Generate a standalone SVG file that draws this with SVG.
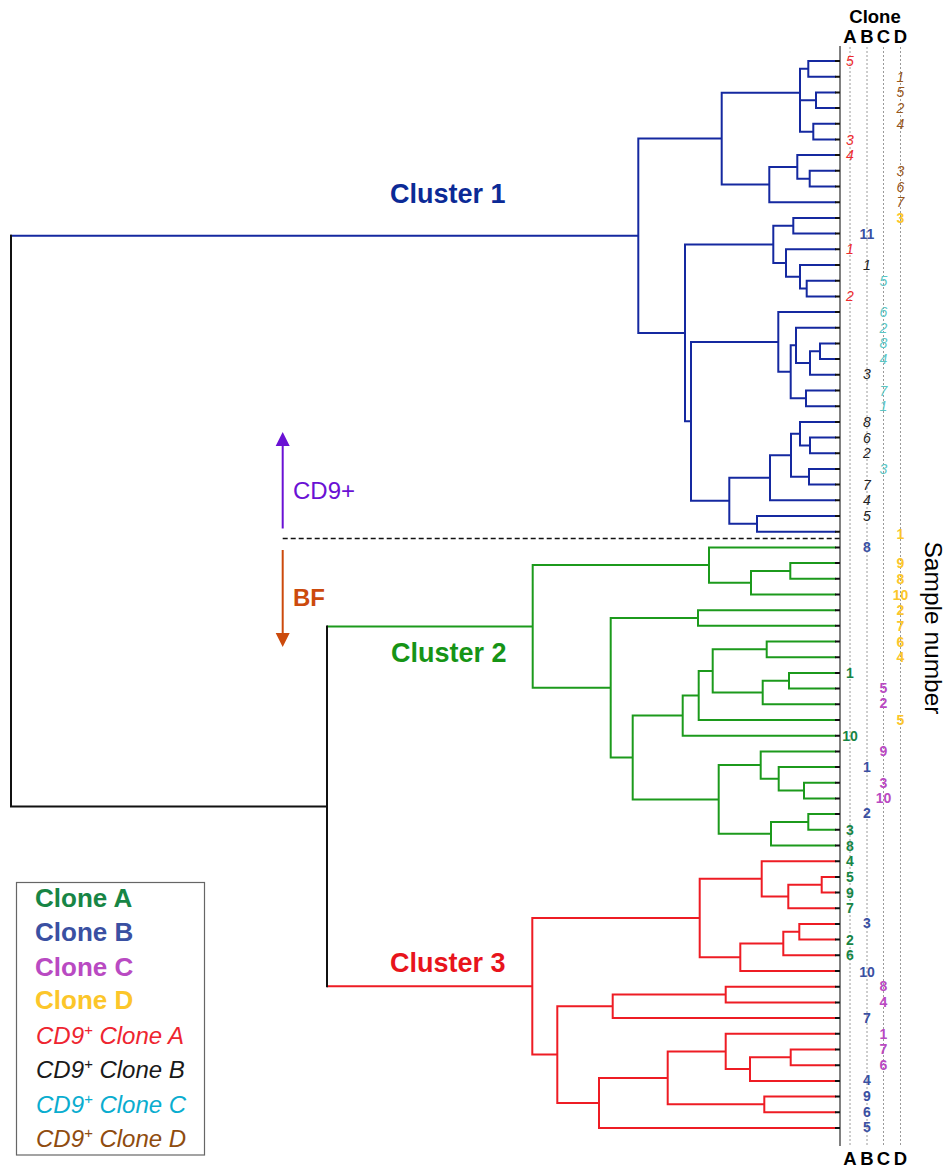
<svg xmlns="http://www.w3.org/2000/svg" width="948" height="1169" viewBox="0 0 948 1169">
<style>
text{font-family:"Liberation Sans",Arial,sans-serif}
.t{fill:none;stroke-width:2;stroke-linecap:square}
.tb{stroke:#1529a0}.tg{stroke:#1c9a1c}.tr{stroke:#ee1c24}.tk{stroke:#111}
.n{font-size:14px;text-anchor:middle}
.i{font-style:italic}
.b{font-weight:bold}
.cA{fill:#ee2a2e}.cB{fill:#222}.cC{fill:#5cc6c4}.cD{fill:#98571b}
.gA{fill:#178545}.gB{fill:#3a50a2}.gC{fill:#b94ac2}.gD{fill:#fcc62a}
.hdr{font-size:18.5px;font-weight:bold;text-anchor:middle;fill:#000}
.cl{font-size:27px;font-weight:bold}
.lg{font-size:26px;font-weight:bold}
.li{font-size:24px;font-style:italic}
.dot{stroke:#9a9a9a;stroke-width:1;stroke-dasharray:2 2}
</style>
<defs>
<marker id="ahP" viewBox="0 0 10 10" refX="0" refY="5" markerUnits="userSpaceOnUse" markerWidth="14" markerHeight="16" orient="auto"><path d="M0,0L10,5L0,10z" fill="#6a11d4"/></marker>
<marker id="ahO" viewBox="0 0 10 10" refX="0" refY="5" markerUnits="userSpaceOnUse" markerWidth="14" markerHeight="16" orient="auto"><path d="M0,0L10,5L0,10z" fill="#cc4a0c"/></marker>
</defs>
<rect width="948" height="1169" fill="#fff"/>

<g id="axis">
<path class="dot" d="M850 47V1145M867 47V1145M883.5 47V1145M900.5 47V1145"/>
<path d="M840 46V1146" stroke="#808080" stroke-width="2"/>
<text class="hdr" x="875" y="23">Clone</text>
<text class="hdr" x="850" y="42.5">A</text><text class="hdr" x="867" y="42.5">B</text><text class="hdr" x="883.5" y="42.5">C</text><text class="hdr" x="900.5" y="42.5">D</text>
<text class="hdr" x="850" y="1165">A</text><text class="hdr" x="867" y="1165">B</text><text class="hdr" x="883.5" y="1165">C</text><text class="hdr" x="900.5" y="1165">D</text>
<text transform="translate(925,628) rotate(90)" text-anchor="middle" font-size="24.5" fill="#000">Sample number</text>
</g>

<g id="connectors">
<path class="t tb" d="M835 61H808.3V76.7H835 M835 92.4H816V108.1H835 M835 123.8H813.3V139.5H835 M808.3 68.85H800V131.65H813.3 M800 100.25H816 M835 170.8H809.7V186.5H835 M835 155.1H797.3V178.65H809.7 M797.3 166.9H769.3V202.2H835 M800 92.7H721.7V184.55H769.3 M835 217.9H793.3V233.6H835 M835 280.7H806.7V296.4H835 M835 265H800V288.55H806.7 M835 249.3H786V276.8H800 M793.3 225.75H773.3V263.05H786 M835 343.4H820V359.1H835 M820 351.25H810V374.8H835 M835 327.7H796V363H810 M835 390.5H806V406.2H835 M796 345.35H790.7V398.35H806 M835 312H778.3V371.85H790.7 M835 437.6H810V453.3H835 M835 421.9H800V445.45H810 M835 468.9H809V484.6H835 M800 433.7H791V476.75H809 M791 455.2H770V500.3H835 M835 516H757V531.7H835 M770 477.75H729.3V523.85H757 M778.3 341.9H691V500.8H729.3 M773.3 244.4H685V421.35H691 M721.7 138.6H638.3V332.9H685 M638.3 235.75H11"/>
<path class="t tg" d="M835 563.1H790.3V578.8H835 M790.3 570.95H751V594.5H835 M835 547.4H709V582.7H751 M835 610.2H698V625.8H835 M835 641.5H766.7V657.2H835 M835 672.9H789V688.6H835 M789 680.75H762.7V704.3H835 M766.7 649.35H712.7V692.5H762.7 M712.7 670.9H698.7V720H835 M698.7 695.45H682.7V735.7H835 M835 782.7H804V798.4H835 M835 767.1H778.7V790.55H804 M835 751.4H760.7V778.8H778.7 M835 814.1H808.3V829.8H835 M808.3 821.95H771V845.5H835 M760.7 765.1H718.7V833.7H771 M682.7 715.6H632.7V799.4H718.7 M698 618H610.7V757.5H632.7 M709 565.05H532.7V687.75H610.7 M532.7 626.4H328"/>
<path class="t tr" d="M835 876.9H821.7V892.6H835 M821.7 884.75H788.3V908.3H835 M835 861.2H761.7V896.5H788.3 M835 924H799.3V939.6H835 M799.3 931.8H783.3V955.3H835 M783.3 943.55H740.3V971H835 M761.7 878.85H699.7V957.3H740.3 M835 986.7H725.7V1002.4H835 M725.7 994.55H612.7V1018.1H835 M835 1049.5H790.7V1065.2H835 M790.7 1057.35H750V1080.9H835 M835 1033.8H725.7V1069.1H750 M835 1096.5H764.3V1112.2H835 M725.7 1051.45H667.7V1104.35H764.3 M667.7 1077.9H599V1127.9H835 M612.7 1006.3H557.3V1102.9H599 M699.7 918.1H532.3V1054.6H557.3 M532.3 986.35H328"/>
<path class="t tk" d="M327 626.4V986.35 M327 806.4H11V235.75"/>
<path stroke="#111" stroke-width="2" d="M835 61H840M835 76.7H840M835 92.4H840M835 108.1H840M835 123.8H840M835 139.5H840M835 155.1H840M835 170.8H840M835 186.5H840M835 202.2H840M835 217.9H840M835 233.6H840M835 249.3H840M835 265H840M835 280.7H840M835 296.4H840M835 312H840M835 327.7H840M835 343.4H840M835 359.1H840M835 374.8H840M835 390.5H840M835 406.2H840M835 421.9H840M835 437.6H840M835 453.3H840M835 468.9H840M835 484.6H840M835 500.3H840M835 516H840M835 531.7H840M835 547.4H840M835 563.1H840M835 578.8H840M835 594.5H840M835 610.2H840M835 625.8H840M835 641.5H840M835 657.2H840M835 672.9H840M835 688.6H840M835 704.3H840M835 720H840M835 735.7H840M835 751.4H840M835 767.1H840M835 782.7H840M835 798.4H840M835 814.1H840M835 829.8H840M835 845.5H840M835 861.2H840M835 876.9H840M835 892.6H840M835 908.3H840M835 924H840M835 939.6H840M835 955.3H840M835 971H840M835 986.7H840M835 1002.4H840M835 1018.1H840M835 1033.8H840M835 1049.5H840M835 1065.2H840M835 1080.9H840M835 1096.5H840M835 1112.2H840M835 1127.9H840"/>
<path d="M282.7 538.5H840" stroke="#111" stroke-width="1.5" stroke-dasharray="5 3"/>
<path d="M282.7 528.5V446" stroke="#6a11d4" stroke-width="2" marker-end="url(#ahP)"/>
<path d="M282.7 550V633" stroke="#cc4a0c" stroke-width="2" marker-end="url(#ahO)"/>
</g>

<g id="leaf-labels">
<text class="n i cA" x="850" y="66">5</text>
<text class="n i cD" x="900.5" y="81.7">1</text>
<text class="n i cD" x="900.5" y="97.4">5</text>
<text class="n i cD" x="900.5" y="113.1">2</text>
<text class="n i cD" x="900.5" y="128.8">4</text>
<text class="n i cA" x="850" y="144.5">3</text>
<text class="n i cA" x="850" y="160.1">4</text>
<text class="n i cD" x="900.5" y="175.8">3</text>
<text class="n i cD" x="900.5" y="191.5">6</text>
<text class="n i cD" x="900.5" y="207.2">7</text>
<text class="n b gD" x="900.5" y="222.9">3</text>
<text class="n b gB" x="867" y="238.6">11</text>
<text class="n i cA" x="850" y="254.3">1</text>
<text class="n i cB" x="867" y="270">1</text>
<text class="n i cC" x="883.5" y="285.7">5</text>
<text class="n i cA" x="850" y="301.4">2</text>
<text class="n i cC" x="883.5" y="317">6</text>
<text class="n i cC" x="883.5" y="332.7">2</text>
<text class="n i cC" x="883.5" y="348.4">8</text>
<text class="n i cC" x="883.5" y="364.1">4</text>
<text class="n i cB" x="867" y="378.8">3</text>
<text class="n i cC" x="883.5" y="395.5">7</text>
<text class="n i cC" x="883.5" y="411.2">1</text>
<text class="n i cB" x="867" y="426.9">8</text>
<text class="n i cB" x="867" y="442.6">6</text>
<text class="n i cB" x="867" y="458.3">2</text>
<text class="n i cC" x="883.5" y="473.9">3</text>
<text class="n i cB" x="867" y="489.6">7</text>
<text class="n i cB" x="867" y="505.3">4</text>
<text class="n i cB" x="867" y="521">5</text>
<text class="n b gD" x="900.5" y="538.7">1</text>
<text class="n b gB" x="867" y="552.4">8</text>
<text class="n b gD" x="900.5" y="568.1">9</text>
<text class="n b gD" x="900.5" y="583.8">8</text>
<text class="n b gD" x="900.5" y="599.5">10</text>
<text class="n b gD" x="900.5" y="615.2">2</text>
<text class="n b gD" x="900.5" y="630.8">7</text>
<text class="n b gD" x="900.5" y="646.5">6</text>
<text class="n b gD" x="900.5" y="662.2">4</text>
<text class="n b gA" x="850" y="677.9">1</text>
<text class="n b gC" x="883.5" y="692.6">5</text>
<text class="n b gC" x="883.5" y="708.3">2</text>
<text class="n b gD" x="900.5" y="725">5</text>
<text class="n b gA" x="850" y="740.7">10</text>
<text class="n b gC" x="883.5" y="756.4">9</text>
<text class="n b gB" x="867" y="772.1">1</text>
<text class="n b gC" x="883.5" y="787.7">3</text>
<text class="n b gC" x="883.5" y="803.4">10</text>
<text class="n b gB" x="867" y="818.1">2</text>
<text class="n b gA" x="850" y="834.8">3</text>
<text class="n b gA" x="850" y="850.5">8</text>
<text class="n b gA" x="850" y="866.2">4</text>
<text class="n b gA" x="850" y="881.9">5</text>
<text class="n b gA" x="850" y="897.6">9</text>
<text class="n b gA" x="850" y="913.3">7</text>
<text class="n b gB" x="867" y="928">3</text>
<text class="n b gA" x="850" y="944.6">2</text>
<text class="n b gA" x="850" y="960.3">6</text>
<text class="n b gB" x="867" y="976.5">10</text>
<text class="n b gC" x="883.5" y="990.7">8</text>
<text class="n b gC" x="883.5" y="1006.9">4</text>
<text class="n b gB" x="867" y="1022.6">7</text>
<text class="n b gC" x="883.5" y="1038.8">1</text>
<text class="n b gC" x="883.5" y="1054">7</text>
<text class="n b gC" x="883.5" y="1069.7">6</text>
<text class="n b gB" x="867" y="1085.4">4</text>
<text class="n b gB" x="867" y="1101">9</text>
<text class="n b gB" x="867" y="1117.2">6</text>
<text class="n b gB" x="867" y="1132.4">5</text>
</g>

<g id="cluster1"><text class="cl" x="390" y="203" fill="#0b2a96">Cluster 1</text></g>
<g id="cluster2"><text class="cl" x="391" y="662" fill="#169416">Cluster 2</text></g>
<g id="cluster3"><text class="cl" x="390" y="972" fill="#e8141c">Cluster 3</text></g>
<g id="cd9-label"><text x="293" y="499" font-size="24" fill="#6a11d4">CD9+</text></g>
<g id="bf-label"><text x="293" y="605.5" font-size="24" font-weight="bold" fill="#cc4a0c">BF</text></g>

<g id="legend">
<rect x="16.5" y="882.5" width="188" height="272.5" fill="none" stroke="#666" stroke-width="1.2"/>
<text class="lg gA" x="35" y="907">Clone A</text>
<text class="lg gB" x="35" y="941">Clone B</text>
<text class="lg gC" x="35" y="975.5">Clone C</text>
<text class="lg gD" x="35" y="1009">Clone D</text>
<text class="li" x="36" y="1044" fill="#ee2530">CD9<tspan dy="-9" font-size="15">+</tspan><tspan dy="9"> Clone A</tspan></text>
<text class="li" x="36" y="1078" fill="#1a1a1a">CD9<tspan dy="-9" font-size="15">+</tspan><tspan dy="9"> Clone B</tspan></text>
<text class="li" x="36" y="1112.5" fill="#0aadcf">CD9<tspan dy="-9" font-size="15">+</tspan><tspan dy="9"> Clone C</tspan></text>
<text class="li" x="36" y="1147" fill="#8f4c0f">CD9<tspan dy="-9" font-size="15">+</tspan><tspan dy="9"> Clone D</tspan></text>
</g>
</svg>
